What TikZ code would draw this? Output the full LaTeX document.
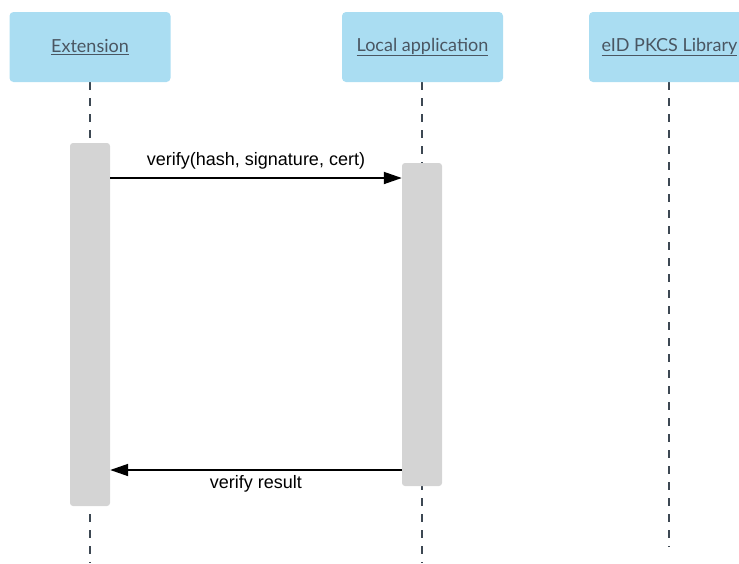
\documentclass[tikz,border=0pt]{standalone}
\usepackage{fontspec}
\setmainfont{Liberation Sans}
\newfontfamily\headfont{Lato}
\usetikzlibrary{arrows.meta}
\definecolor{headfill}{HTML}{AADDF2}
\definecolor{headtext}{HTML}{4A5662}
\definecolor{lifeline}{HTML}{3D4853}
\definecolor{barfill}{HTML}{D4D4D4}
\tikzset{
  header/.style={fill=headfill, rounded corners=4pt, minimum width=161pt, minimum height=70pt,
    inner sep=0pt, font=\headfont\fontsize{18}{20}\selectfont, text=headtext},
  lifeline/.style={draw=lifeline, line width=2pt, dash pattern=on 8pt off 8pt},
  actbar/.style={fill=barfill, rounded corners=3pt},
  msg/.style={draw=black, line width=1.8pt, -{Triangle[length=18pt, width=12pt]}},
  msglabel/.style={font=\fontsize{18}{20}\selectfont, text=black, inner sep=0pt}
}
\newcommand{\headlabel}[1]{\underline{#1}}
\begin{document}
\begin{tikzpicture}[x=1pt, y=-1pt]
  \useasboundingbox (0,0) rectangle (739,563);
  % lifelines
  \coordinate (l1top) at (90,82);
  \coordinate (l1bot) at (90,563);
  \coordinate (l2top) at (422,82);
  \coordinate (l2bot) at (422,563);
  \coordinate (l3top) at (669,82);
  \coordinate (l3bot) at (669,547);
  \draw[lifeline] (l1top) -- (l1bot);
  \draw[lifeline] (l2top) -- (l2bot);
  \draw[lifeline] (l3top) -- (l3bot);
  % participants
  \node[header] (ext) at (90,47) {\headlabel{Extension}};
  \node[header] (app) at (422.5,47) {\headlabel{Local application}};
  \node[header] (lib) at (669.5,47) {\headlabel{eID PKCS Library}};
  % activation bars
  \node[actbar, minimum width=40pt, minimum height=363pt, inner sep=0pt] (act1) at (90,324.5) {};
  \node[actbar, minimum width=40pt, minimum height=323pt, inner sep=0pt] (act2) at (422,324.5) {};
  % messages
  \coordinate (m1s) at (act1.east |- 0,178);
  \coordinate (m1e) at (act2.west |- 0,178);
  \draw[msg] (m1s) -- node[msglabel, above=8pt] {verify(hash, signature, cert)} (m1e);
  \coordinate (m2s) at (act2.west |- 0,470);
  \coordinate (m2e) at (act1.east |- 0,470);
  \draw[msg] (m2s) -- node[msglabel, below=5pt] {verify result} (m2e);
\end{tikzpicture}
\end{document}
